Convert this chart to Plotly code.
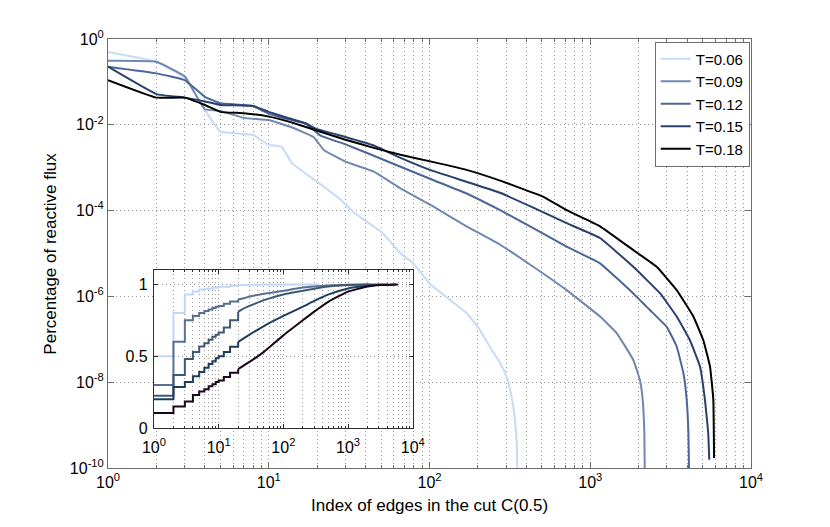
import plotly.graph_objects as go

# main panel: reactive flux share of each edge, sorted
temps = ['T=0.06', 'T=0.09', 'T=0.12', 'T=0.15', 'T=0.18']

x_006 = [1, 2, 3, 4, 5, 8, 10, 12, 14, 22, 28, 34, 51, 66, 79, 100, 134, 170, 200, 238, 275, 302, 324, 339, 350, 352]
y_006 = [0.50, 0.295, 0.126, 0.0224, 0.0069, 0.0058, 0.0034, 0.0031, 0.00126, 3.6e-4, 1.8e-4, 8.9e-5, 3.0e-5,
         1.0e-5, 6.0e-6, 2.0e-6, 8.3e-7, 4.1e-7, 1.95e-7, 6.6e-8, 2.8e-8, 1.3e-8, 4.6e-9, 1.5e-9, 3.1e-10, 3e-11]

x_009 = [1, 2, 3, 4, 5, 7, 10, 13.5, 19, 22, 30, 45, 66, 106, 170, 275, 442, 713, 1150, 1460, 1853, 2040, 2120,
         2170, 2190]
y_009 = [0.31, 0.295, 0.135, 0.023, 0.021, 0.0145, 0.0129, 0.0091, 0.0052, 0.0026, 0.00138, 8.1e-4, 3.3e-4,
         1.23e-4, 4.3e-5, 1.6e-5, 4.9e-6, 1.4e-6, 3.4e-7, 1.4e-7, 3.3e-8, 1.1e-8, 3.9e-9, 6.5e-10, 3e-11]

x_012 = [1, 2, 3, 4, 5, 8, 10, 13.5, 17, 21, 30, 45, 66, 106, 170, 275, 442, 713, 1150, 1853, 2350, 2990, 3450,
         3800, 3980, 4080, 4140]
y_012 = [0.226, 0.158, 0.11, 0.045, 0.032, 0.0275, 0.018, 0.0132, 0.0107, 0.0056, 0.0035, 0.0019, 0.00105,
         5.1e-4, 2.5e-4, 1.02e-4, 3.9e-5, 1.45e-5, 5.9e-6, 1.17e-6, 4.8e-7, 1.95e-7, 6.8e-8, 1.6e-8, 3.9e-9,
         6.5e-10, 3e-11]

x_015 = [1, 2, 3, 4, 5, 8, 10, 13.5, 17, 20, 30, 45, 66, 106, 170, 275, 442, 713, 1150, 1853, 2720, 3450, 4170,
         4820, 5170, 5420, 5500]
y_015 = [0.226, 0.052, 0.043, 0.035, 0.029, 0.0275, 0.020, 0.014, 0.0107, 0.0079, 0.0052, 0.0033, 0.0017,
         8.3e-4, 4.7e-4, 2.6e-4, 1.17e-4, 5.1e-5, 2.3e-5, 4.9e-6, 1.17e-6, 3.4e-7, 9.5e-8, 2.3e-8, 3.9e-9,
         6.5e-10, 1.55e-10]

x_018 = [1, 2, 3, 4, 5, 7, 10, 13.5, 21, 30, 45, 66, 106, 170, 275, 511, 713, 1150, 1853, 2590, 3450, 4380, 5050,
         5560, 5830, 5890]
y_018 = [0.11, 0.043, 0.043, 0.029, 0.020, 0.0186, 0.0155, 0.0117, 0.0069, 0.0045, 0.0029, 0.0020, 0.00135,
         8.9e-4, 5.0e-4, 2.1e-4, 1.02e-4, 4.3e-5, 1.2e-5, 4.9e-6, 1.4e-6, 3.4e-7, 9.5e-8, 2.3e-8, 3.9e-9, 1.7e-10]

# inset: cumulative share
cx_006 = [1, 2, 3, 4, 5, 6, 8, 10, 15, 20, 30, 50, 100, 352]
cy_006 = [0.50, 0.80, 0.93, 0.95, 0.965, 0.97, 0.978, 0.983, 0.99, 0.994, 0.997, 0.999, 1.0, 1.0]

cx_009 = [1, 2, 3, 4, 5, 6, 7, 8, 9, 10, 12, 15, 20, 25, 30, 50, 100, 200, 500, 1000, 2190]
cy_009 = [0.30, 0.60, 0.75, 0.78, 0.80, 0.815, 0.825, 0.835, 0.845, 0.85, 0.865, 0.88, 0.895, 0.905, 0.915,
          0.935, 0.955, 0.978, 0.993, 0.998, 1.0]

cx_012 = [1, 2, 3, 4, 5, 6, 7, 8, 9, 10, 12, 15, 20, 25, 30, 50, 100, 200, 300, 500, 1000, 2000, 4140]
cy_012 = [0.224, 0.37, 0.48, 0.53, 0.567, 0.59, 0.615, 0.635, 0.65, 0.665, 0.70, 0.75, 0.81, 0.835, 0.85,
          0.89, 0.93, 0.955, 0.97, 0.985, 0.995, 0.999, 1.0]

cx_015 = [1, 2, 3, 4, 5, 6, 7, 8, 9, 10, 12, 15, 20, 30, 50, 100, 200, 300, 500, 1000, 2000, 3000, 5500]
cy_015 = [0.20, 0.285, 0.32, 0.36, 0.39, 0.42, 0.445, 0.465, 0.486, 0.50, 0.53, 0.565, 0.60, 0.65, 0.71,
          0.78, 0.845, 0.885, 0.93, 0.972, 0.99, 0.997, 1.0]

cx_018 = [1, 2, 3, 4, 5, 6, 7, 8, 9, 10, 12, 15, 20, 30, 50, 100, 200, 300, 500, 1000, 2000, 3000, 5890]
cy_018 = [0.104, 0.15, 0.185, 0.23, 0.254, 0.27, 0.29, 0.305, 0.32, 0.33, 0.355, 0.385, 0.41, 0.46, 0.53,
          0.645, 0.75, 0.81, 0.88, 0.95, 0.985, 0.995, 1.0]

main_colors = ['#c6dbf5', '#7088b0', '#4d6699', '#2b3f6e', '#000000']
inset_colors = ['#c4d6f8', '#5b7090', '#3f5874', '#1e3d5c', '#1a0618']

mains = [(x_006, y_006), (x_009, y_009), (x_012, y_012), (x_015, y_015), (x_018, y_018)]
cums = [(cx_006, cy_006), (cx_009, cy_009), (cx_012, cy_012), (cx_015, cy_015), (cx_018, cy_018)]

FONT = 'Liberation Sans, Arial, sans-serif'
GRID = '#9a9a9a'
DOTS = '1px,3px'

fig = go.Figure()

for i in range(len(temps)):
    xs, ys = mains[i]
    fig.add_trace(go.Scatter(x=xs, y=ys, mode='lines', name=temps[i],
                             line=dict(color=main_colors[i], width=2, shape='spline', smoothing=0.3)))

# inset: stair part for small indices, plain line for the rest
cut = 20
for i in range(len(temps)):
    xs, ys = cums[i]
    lo_x = [v for v in xs if v <= cut]
    lo_y = ys[:len(lo_x)]
    hi_x = xs[len(lo_x) - 1:]
    hi_y = ys[len(lo_x) - 1:]
    fig.add_trace(go.Scatter(x=lo_x, y=lo_y, mode='lines', line_shape='hv', showlegend=False,
                             line=dict(color=inset_colors[i], width=2), xaxis='x2', yaxis='y2'))
    fig.add_trace(go.Scatter(x=hi_x, y=hi_y, mode='lines', showlegend=False,
                             line=dict(color=inset_colors[i], width=2, shape='spline', smoothing=0.4),
                             xaxis='x2', yaxis='y2'))

decades = [1, 10, 100, 1000, 10000]
dec_text = ['10<sup>%d</sup>' % k for k in range(5)]
minor_x = [m * 10 ** k for k in range(4) for m in range(2, 10)]
y_vals = [1e-10, 1e-8, 1e-6, 1e-4, 1e-2, 1]
y_text = ['10<sup>%d</sup>' % k for k in [-10, -8, -6, -4, -2, 0]]

# page body keeps an 8px margin, so the figure is 16px smaller than the window
fig.update_layout(
    width=822, height=519,
    margin=dict(l=100, r=79, t=31, b=59),
    paper_bgcolor='white', plot_bgcolor='white',
    font=dict(family=FONT, size=16, color='black'),
    showlegend=True,
    legend=dict(x=0.998, y=0.994, xanchor='right', yanchor='top', bgcolor='white',
                bordercolor='#6e6e6e', borderwidth=1, font=dict(size=15),
                tracegroupgap=0, itemwidth=30),
    xaxis=dict(type='log', range=[0, 4], tickvals=decades, ticktext=dec_text,
               showline=True, linecolor='#6e6e6e', mirror='allticks', ticks='inside', ticklen=6,
               tickcolor='#6e6e6e', showgrid=True, gridcolor=GRID, griddash=DOTS, zeroline=False,
               minor=dict(tickvals=minor_x, ticks='inside', ticklen=3, tickcolor='#6e6e6e',
                          showgrid=True, gridcolor=GRID, griddash=DOTS)),
    yaxis=dict(type='log', range=[-10, 0], tickvals=y_vals, ticktext=y_text,
               showline=True, linecolor='#6e6e6e', mirror='allticks', ticks='inside', ticklen=6,
               tickcolor='#6e6e6e', showgrid=True, gridcolor=GRID, griddash=DOTS, zeroline=False),
    xaxis2=dict(type='log', range=[0, 4], domain=[0.0715, 0.474], anchor='y2',
                tickvals=decades, ticktext=dec_text, ticklabelstandoff=5,
                showline=True, linecolor='#303030', mirror='allticks', ticks='inside', ticklen=4,
                tickcolor='#303030', showgrid=True, gridcolor=GRID, griddash=DOTS, zeroline=False,
                minor=dict(tickvals=minor_x, ticks='inside', ticklen=2, tickcolor='#303030',
                           showgrid=True, gridcolor=GRID, griddash=DOTS)),
    yaxis2=dict(range=[0, 1.1], domain=[0.0932, 0.4615], anchor='x2',
                tickvals=[0, 0.5, 1], ticktext=['0', '0.5', '1'], ticklabelstandoff=2,
                showline=True, linecolor='#303030', mirror='allticks', ticks='inside', ticklen=4,
                tickcolor='#303030', showgrid=True, gridcolor=GRID, griddash=DOTS, zeroline=False),
    annotations=[
        dict(text='Index of edges in the cut C(0.5)', xref='paper', yref='paper', x=0.5, y=-0.088,
             xanchor='center', yanchor='middle', showarrow=False, font=dict(size=17)),
        dict(text='Percentage of reactive flux', xref='paper', yref='paper', x=-0.09, y=0.5,
             xanchor='center', yanchor='middle', textangle=-90, showarrow=False, font=dict(size=17)),
    ],
)

fig.write_html("out.html")
